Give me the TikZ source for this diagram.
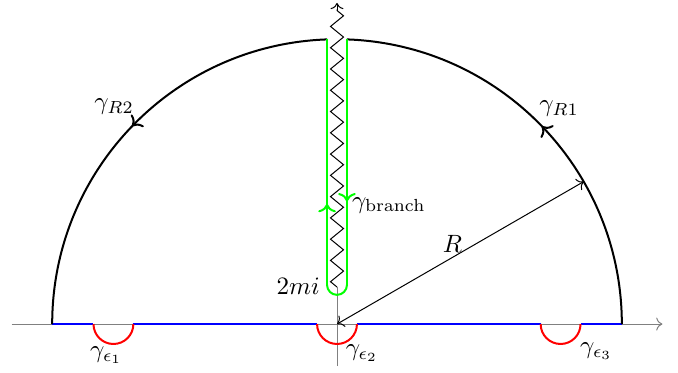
\documentclass[tikz,border=0pt]{standalone}
\usetikzlibrary{decorations.pathmorphing,decorations.markings,arrows.meta}
\begin{document}
\begin{tikzpicture}[
  axis/.style={gray},
  bigarc/.style={thick,black},
  seg/.style={thick,blue},
  indent/.style={thick,red},
  keyhole/.style={thick,green},
  midarrow/.style={postaction={decorate},decoration={markings,mark=at position #1 with {\arrow{>}}}},
]
\useasboundingbox (-4.733,-0.674) rectangle (4.789,4.551);
\coordinate (O) at (0,0);
\coordinate (B) at (0,0.52);
% axes
\draw[axis,->] (-4.57,0) -- (4.57,0);
\draw[axis] (0,-0.59) -- (B);
\draw[decorate,decoration={zigzag,segment length=8.5pt,amplitude=2.6pt}] (B) -- (0,4.42);
\draw[->] (0,4.40) -- (0,4.51);
% blue segments
\draw[seg] (-4,0) -- (-3.42,0);
\draw[seg] (-2.86,0) -- (-0.28,0);
\draw[seg] (0.28,0) -- (2.86,0);
\draw[seg] (3.42,0) -- (4,0);
% red indentations
\draw[indent] (-3.42,0) arc (180:360:0.28);
\draw[indent] (-0.28,0) arc (180:360:0.28);
\draw[indent] (2.86,0) arc (180:360:0.28);
% big arcs
\draw[bigarc,midarrow=0.5] (4,0) arc (0:88:4);
\draw[bigarc,midarrow=0.5] ({-4*cos(88)},{4*sin(88)}) arc (92:180:4);
% keyhole
\draw[keyhole,midarrow=0.66] (0.14,3.9975) -- (0.14,0.55);
\draw[keyhole] (0.14,0.55) arc (0:-180:0.14);
\draw[keyhole,midarrow=0.33] (-0.14,0.55) -- (-0.14,3.9975);
% radius
\draw[<->] (O) -- (30:4);
% labels
\node (lR) at (1.62,1.12) {$R$};
\node (lR1) at (3.12,3.03) {$\gamma_{R1}$};
\node (lR2) at (-3.13,3.05) {$\gamma_{R2}$};
\node[anchor=west,inner sep=1pt] (lbr) at (0.17,1.67) {$\gamma_{\mathrm{branch}}$};
\node[anchor=east,inner sep=1pt] (l2mi) at (-0.2,0.53) {$2mi$};
\node (le1) at (-3.24,-0.44) {$\gamma_{\epsilon_1}$};
\node (le2) at (0.35,-0.41) {$\gamma_{\epsilon_2}$};
\node (le3) at (3.64,-0.38) {$\gamma_{\epsilon_3}$};
\end{tikzpicture}
\end{document}
